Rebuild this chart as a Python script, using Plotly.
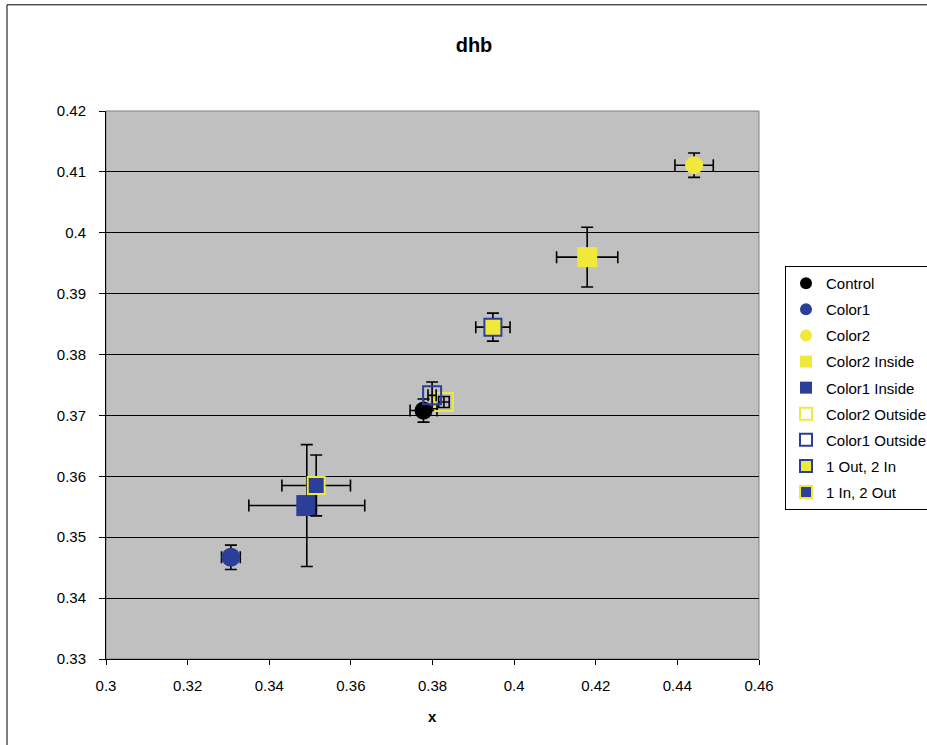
import plotly.graph_objects as go

names = ["Control", "Color1", "Color2", "Color2 Inside", "Color1 Inside",
         "Color2 Outside", "Color1 Outside", "1 Out, 2 In", "1 In, 2 Out"]
x_vals = [0.3778, 0.3306, 0.4441, 0.4179, 0.3492, 0.3828, 0.3799, 0.3948, 0.3515]
y_vals = [0.3708, 0.3467, 0.4111, 0.3960, 0.3552, 0.3722, 0.3733, 0.3845, 0.3585]
x_err = [0.0033, 0.0023, 0.0047, 0.0075, 0.0142, 0.0013, 0.0010, 0.0042, 0.0084]
y_err = [0.0019, 0.0020, 0.0020, 0.0049, 0.0100, 0.0009, 0.0022, 0.0023, 0.0050]

BLUE = "#2B3F99"
YELLOW = "#F0E83A"
styles = [
    dict(symbol="circle", color="black", line=dict(width=0), size=18),
    dict(symbol="circle", color=BLUE, line=dict(width=0), size=19),
    dict(symbol="circle", color=YELLOW, line=dict(width=0), size=18),
    dict(symbol="square", color=YELLOW, line=dict(width=0), size=20),
    dict(symbol="square", color=BLUE, line=dict(width=0), size=21),
    dict(symbol="square-open", color=YELLOW, line=dict(width=2, color=YELLOW), size=18),
    dict(symbol="square-open", color=BLUE, line=dict(width=2, color=BLUE), size=18),
    dict(symbol="square", color=YELLOW, line=dict(width=2, color=BLUE), size=17),
    dict(symbol="square", color=BLUE, line=dict(width=2, color=YELLOW), size=17),
]

fig = go.Figure()
for i, n in enumerate(names):
    fig.add_trace(go.Scatter(
        x=[x_vals[i]], y=[y_vals[i]], mode="markers", name=n,
        legendgroup=n,
        marker=styles[i],
        error_x=dict(type="constant", value=x_err[i], color="black", thickness=1.6, width=6),
        error_y=dict(type="constant", value=y_err[i], color="black", thickness=1.6, width=6),
        cliponaxis=False,
    ))

font = "Liberation Sans, Arial, sans-serif"
fig.update_layout(
    width=927, height=745,
    margin=dict(l=106, r=168, t=111, b=86),
    paper_bgcolor="white", plot_bgcolor="#C0C0C0",
    font=dict(family=font, size=15, color="black"),
    title=dict(text="<b>dhb</b>", font=dict(size=20, family=font), xref="container",
               x=474 / 927, xanchor="center", yref="container", y=1 - 45 / 745, yanchor="middle"),
    showlegend=True,
    legend=dict(xref="container", yref="container", x=785 / 927, y=1 - 266 / 745,
                xanchor="left", yanchor="top",
                bgcolor="white", bordercolor="black", borderwidth=1,
                font=dict(size=15, family=font), itemsizing="constant",
                tracegroupgap=3.6),
    xaxis=dict(range=[0.3, 0.46], dtick=0.02, tick0=0.3, showgrid=False, zeroline=False,
               showline=True, linecolor="black", linewidth=1, ticks="outside", ticklen=5,
               tickcolor="black", ticklabelstandoff=8),
    yaxis=dict(range=[0.33, 0.42], dtick=0.01, tick0=0.33, showgrid=True, gridcolor="black",
               gridwidth=1, zeroline=False, showline=True, linecolor="black", linewidth=1,
               ticks="outside", ticklen=6, tickcolor="black", ticklabelstandoff=10),
    annotations=[dict(text="<b>x</b>", x=0.5, y=(659 - 716) / 547, xref="paper", yref="paper",
                      showarrow=False, xanchor="center", yanchor="middle",
                      font=dict(size=15, family=font))],
    shapes=[
        dict(type="rect", xref="paper", yref="paper", x0=0, x1=1, y0=0, y1=1,
             line=dict(color="#808080", width=1), layer="below"),
        dict(type="rect", xref="paper", yref="paper",
             x0=(7 - 106) / 653, x1=(940 - 106) / 653,
             y0=(659 - 760) / 547, y1=(659 - 6) / 547,
             line=dict(color="black", width=1), layer="below"),
    ],
)
fig.write_html("out.html", config={"displayModeBar": False},
               post_script="document.body.style.margin='0';document.body.style.overflow='hidden';")
